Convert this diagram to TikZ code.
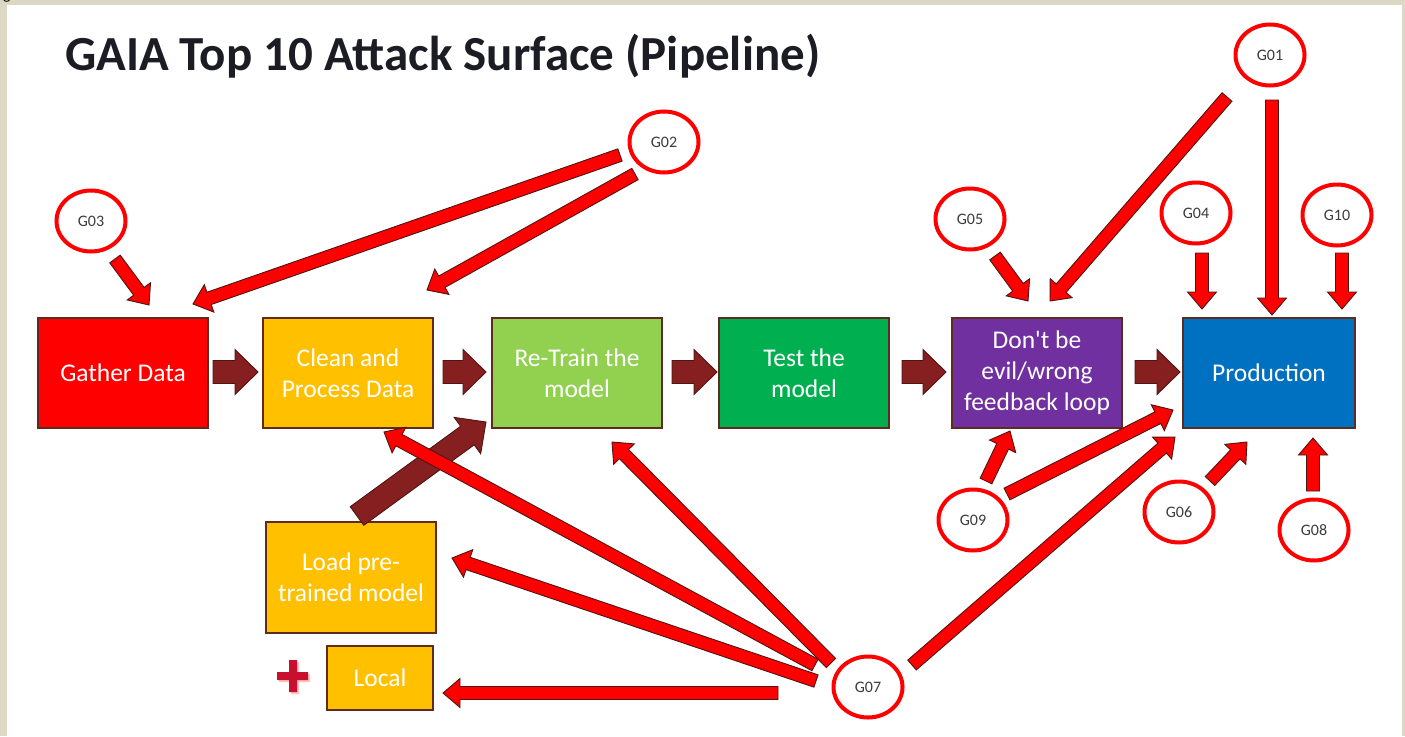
\documentclass[tikz,border=0pt]{standalone}
\usepackage{fontspec}
\setmainfont{Carlito}
\usepackage{tikz}
\usetikzlibrary{calc,shapes.geometric}
\definecolor{framebeige}{RGB}{221,216,195}
\definecolor{boxline}{RGB}{94,44,30}
\definecolor{gatherred}{RGB}{255,0,0}
\definecolor{cleanyel}{RGB}{255,192,0}
\definecolor{trainlime}{RGB}{146,208,80}
\definecolor{testgreen}{RGB}{0,176,80}
\definecolor{evilpurple}{RGB}{112,48,160}
\definecolor{prodblue}{RGB}{0,112,192}
\definecolor{flowdark}{RGB}{134,31,31}
\definecolor{arrline}{RGB}{80,20,20}
\definecolor{plusred}{RGB}{200,16,46}
\definecolor{gtext}{RGB}{60,60,60}
\definecolor{titleink}{RGB}{28,28,36}
\tikzset{
  stage/.style   = {draw=boxline,line width=1.2,minimum width=170,minimum height=110,
                    inner sep=0,text=white,align=center,font=\fontsize{25.5}{31}\selectfont},
  gtag/.style    = {ellipse,draw=red,line width=4,fill=white,minimum width=69,
                    minimum height=61,inner sep=0,text=gtext,font=\fontsize{16}{16}\selectfont},
  redarr/.style  = {fill=red,draw=arrline,line width=0.9},
  darkarr/.style = {fill=flowdark,draw=arrline,line width=0.9}
}
% block arrow: style, tail, tip, half shaft, half head, head length
\newcommand{\blockarrow}[6]{%
  \coordinate (ba-neck) at ($(#3)!#6!(#2)$);
  \draw[#1] ($(#2)!#4!90:(#3)$) -- ($(ba-neck)!#4!90:(#3)$)
    -- ($(ba-neck)!#5!90:(#3)$) -- (#3)
    -- ($(ba-neck)!#5!-90:(#3)$) -- ($(ba-neck)!#4!-90:(#3)$)
    -- ($(#2)!#4!-90:(#3)$) -- cycle;
}
\newcommand{\redarrow}[2]{\blockarrow{redarr}{#1}{#2}{6.5pt}{14.5pt}{17pt}}
\newcommand{\flowarrow}[2]{\blockarrow{darkarr}{#1}{#2}{11.5pt}{22.5pt}{23pt}}

\begin{document}
\begin{tikzpicture}[x=1pt,y=-1pt]
  \useasboundingbox (0,0) rectangle (1405,736);
  \fill[framebeige] (0,0) rectangle (1405,736);
  \fill[white] (7,4.5) rectangle (1401.5,736);
  \begin{scope}
    \clip (0,0) rectangle (16,4.5);
    \node[anchor=base west,inner sep=0,font=\fontsize{16}{16}\selectfont] (pageg) at (3,-1) {g};
  \end{scope}

  \node[anchor=base west,inner sep=0,text=titleink,font=\fontsize{49}{49}\selectfont\bfseries]
    (title) at (65,70) {GAIA Top 10 Attack Surface (Pipeline)};

  % pipeline stages
  \node[stage,fill=gatherred]  (gather)  at (123,373)  {Gather Data};
  \node[stage,fill=cleanyel]   (clean)   at (348,373)  {Clean and\\Process Data};
  \node[stage,fill=trainlime]  (retrain) at (577,373)  {Re-Train the\\model};
  \node[stage,fill=testgreen]  (test)    at (804,373)  {Test the\\model};
  \node[stage,fill=evilpurple] (evil)    at (1037,373) {Don\textquotesingle t be\\evil/wrong\\feedback loop};
  \node[stage,fill=prodblue,minimum width=172] (prod) at (1269,373) {Production};
  \node[stage,fill=cleanyel,minimum height=111] (load) at (351,577.5) {Load pre-\\trained model};
  \node[stage,fill=cleanyel,minimum width=106,minimum height=64] (local) at (380,678) {Local};

  % threats
  \node[gtag] (g01) at (1270,55)  {G01};
  \node[gtag] (g02) at (664,142)  {G02};
  \node[gtag] (g03) at (91,221)   {G03};
  \node[gtag] (g04) at (1196,213) {G04};
  \node[gtag] (g05) at (970,219)  {G05};
  \node[gtag] (g06) at (1179,512) {G06};
  \node[gtag] (g07) at (868,687)  {G07};
  \node[gtag] (g08) at (1314,530) {G08};
  \node[gtag] (g09) at (973,520)  {G09};
  \node[gtag] (g10) at (1337,215) {G10};

  % arrow ends
  \coordinate (f1a) at (213,372);  \coordinate (f1b) at (258,372);
  \coordinate (f2a) at (443,372);  \coordinate (f2b) at (486,372);
  \coordinate (f3a) at (672,372);  \coordinate (f3b) at (717,372);
  \coordinate (f4a) at (902,372);  \coordinate (f4b) at (946,372);
  \coordinate (f5a) at (1135,372); \coordinate (f5b) at (1180,372);
  \coordinate (f6a) at (357,516);  \coordinate (f6b) at (486,422);

  \flowarrow{f1a}{f1b}
  \flowarrow{f2a}{f2b}
  \flowarrow{f3a}{f3b}
  \flowarrow{f4a}{f4b}
  \flowarrow{f5a}{f5b}
  \flowarrow{f6a}{f6b}

  \coordinate (r03a) at (115,259);  \coordinate (r03b) at (149,305);
  \coordinate (r02a) at (620,155);  \coordinate (r02b) at (193,304);
  \coordinate (r02c) at (635,174);  \coordinate (r02d) at (427,290);
  \coordinate (r05a) at (995,256);  \coordinate (r05b) at (1028,301);
  \coordinate (r01a) at (1227,97);  \coordinate (r01b) at (1050,301);
  \coordinate (r01c) at (1272,100); \coordinate (r01d) at (1272,315);
  \coordinate (r04a) at (1202,253); \coordinate (r04b) at (1202,309);
  \coordinate (r10a) at (1342,253); \coordinate (r10b) at (1342,309);
  \coordinate (r09a) at (986,481);  \coordinate (r09b) at (1010,431);
  \coordinate (r09c) at (1007,494); \coordinate (r09d) at (1173,410);
  \coordinate (r06a) at (1210,481); \coordinate (r06b) at (1247,442);
  \coordinate (r08a) at (1313,491); \coordinate (r08b) at (1313,438);
  \coordinate (r07a) at (912,665);  \coordinate (r07b) at (1175,437);
  \coordinate (r07c) at (778,693);  \coordinate (r07d) at (443,693);
  \coordinate (r07e) at (816,681);  \coordinate (r07f) at (452,558);
  \coordinate (r07g) at (815,665);  \coordinate (r07h) at (384,432);
  \coordinate (r07i) at (831,663);  \coordinate (r07j) at (612,442);

  \redarrow{r03a}{r03b}
  \redarrow{r02a}{r02b}
  \redarrow{r02c}{r02d}
  \redarrow{r05a}{r05b}
  \redarrow{r01a}{r01b}
  \redarrow{r01c}{r01d}
  \redarrow{r04a}{r04b}
  \redarrow{r10a}{r10b}
  \redarrow{r09a}{r09b}
  \redarrow{r09c}{r09d}
  \redarrow{r06a}{r06b}
  \redarrow{r08a}{r08b}
  \redarrow{r07a}{r07b}
  \redarrow{r07c}{r07d}
  \redarrow{r07e}{r07f}
  \redarrow{r07g}{r07h}
  \redarrow{r07i}{r07j}

  % plus mark
  \fill[red!25] (279,674) rectangle (310,682) (291,662) rectangle (299,694);
  \fill[plusred] (277,672) rectangle (308,680) (289,660) rectangle (297,692);
\end{tikzpicture}
\end{document}
